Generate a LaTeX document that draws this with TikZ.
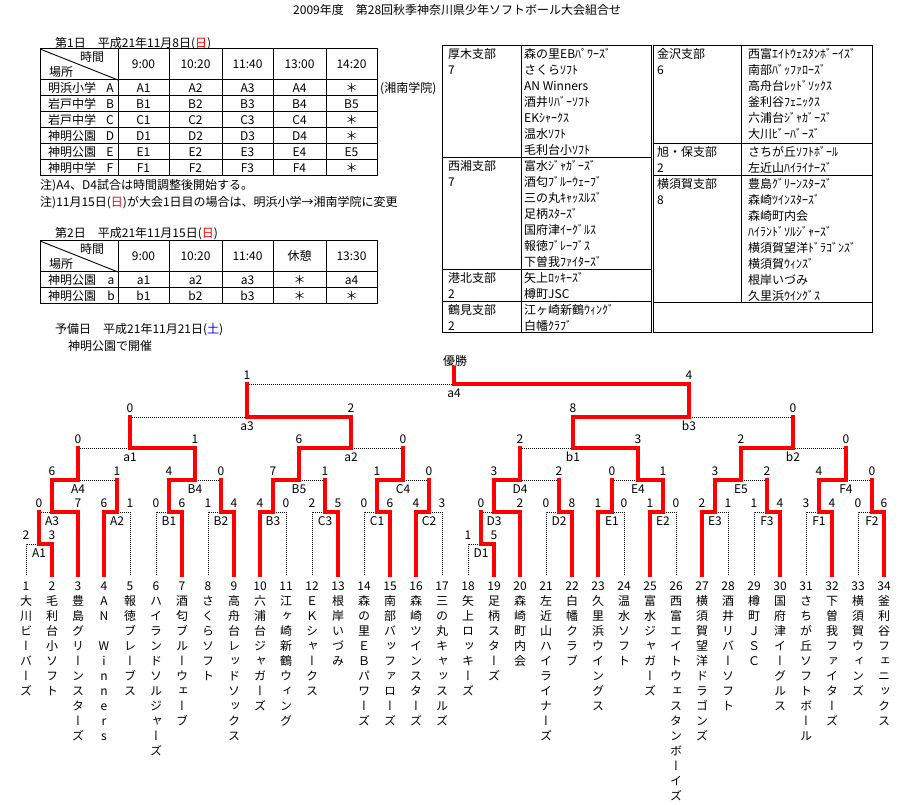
\documentclass[tikz,border=0pt]{standalone}
\usepackage{fontspec}
\usetikzlibrary{calc}
\newfontfamily\jp{Noto Sans CJK JP}
\newfontfamily\jpv[RawFeature=+vert]{Noto Sans CJK JP}
\definecolor{pred}{RGB}{255,0,0}
\definecolor{pblue}{RGB}{0,0,255}
\tikzset{
  txt/.style={font=\jp\fontsize{12}{14}\selectfont, inner sep=0pt, text height=9.6pt, text depth=0.7pt},
  lft/.style={txt, anchor=west},
  vch/.style={font=\jpv\fontsize{12}{14}\selectfont, inner sep=0pt, text height=9.6pt, text depth=0.7pt},
  win/.style={draw=pred, line width=3.6pt, line cap=rect},
  lose/.style={draw=black, line width=0.9pt, dash pattern=on 1pt off 1pt},
  rule/.style={draw=black, line width=1pt},
}
\newcommand\LeafW[3]{\draw[win] (#1) |- (#2); \node[txt] (s#1#2) at ($(#1 |- #2)+(0,-9)$) {#3};}
\newcommand\LeafL[3]{\draw[lose] (#1) |- (#2); \node[txt] (s#1#2) at ($(#1 |- #2)+(0,-9)$) {#3};}
\newcommand\SubW[3]{\draw[win] (#1) -- (#1 |- #2) -- (#2); \node[txt] (s#1#2) at ($(#1 |- #2)+(0,-9)$) {#3};}
\newcommand\SubL[3]{\draw[lose] (#1 |- #2) -- (#2); \draw[win] (#1) -- (#1 |- #2); \node[txt] (s#1#2) at ($(#1 |- #2)+(0,-9)$) {#3};}
\newcommand\Lab[2]{\node[txt] (lab#1) at ($(#1)+(0,9)$) {#2};}
\newcommand\vname[2]{\foreach \chr [count=\idx] in {#2} {\node[vch] (v#1-\idx) at (26*#1, 586+15*\idx) {\chr};}}
\newcommand\blk[6]{%
  \node[lft] (bn-#3-#1) at (#1,#3+8) {#4};
  \node[lft] (bc-#3-#1) at (#1,#3+24) {#5};
  \foreach \tm [count=\idx] in {#6} {\node[lft] (bt-#3-#1-\idx) at (#2,#3-8+16*\idx) {\tm};}}
\begin{document}
\begin{tikzpicture}[x=1pt,y=-1pt]
\useasboundingbox (0,0) rectangle (898,805);
\fill[white] (0,0) rectangle (898,805);

% title
\node[lft] (title) at (293,10) {2009年度　第28回秋季神奈川県少年ソフトボール大会組合せ};

% ---- Day 1 table
\node[lft] (d1) at (55,43) {第1日　平成21年11月8日(\textcolor{pred}{日})};
\draw[rule] (40,49) rectangle (377,176);
\foreach \x in {118,169,222,273,326} \draw[rule] (\x,49) -- (\x,176);
\foreach \y in {80,96,112,128,144,160} \draw[rule] (40,\y) -- (377,\y);
\draw[line width=0.9pt] (40,49) -- (118,80);
\node[txt] (h1t) at (92,57) {時間};
\node[txt] (h1p) at (61,72) {場所};
\foreach \hd/\hx [count=\i] in {9:00/143.5,10:20/195.5,11:40/247.5,13:00/299.5,14:20/351.5}
  \node[txt] (hd1-\i) at (\hx,64) {\hd};
\foreach \pl/\lr/\xa/\xb/\xc/\xd/\xe [count=\r] in {明浜小学/A/A1/A2/A3/A4/＊, 岩戸中学/B/B1/B2/B3/B4/B5, 岩戸中学/C/C1/C2/C3/C4/＊, 神明公園/D/D1/D2/D3/D4/＊, 神明公園/E/E1/E2/E3/E4/E5, 神明中学/F/F1/F2/F3/F4/＊}{
  \node[lft] (pa\r) at (48,72+16*\r) {\pl};
  \node[txt] (la\r) at (110,72+16*\r) {\lr};
  \node[txt] (ca\r) at (143.5,72+16*\r) {\xa};
  \node[txt] (cb\r) at (195.5,72+16*\r) {\xb};
  \node[txt] (cc\r) at (247.5,72+16*\r) {\xc};
  \node[txt] (cd\r) at (299.5,72+16*\r) {\xd};
  \node[txt] (ce\r) at (351.5,72+16*\r) {\xe};
}
\node[lft] (shonan) at (380,88) {(湘南学院)};
\node[lft] (note1) at (40,185) {注)A4、D4試合は時間調整後開始する。};
\node[lft] (note2) at (40,202) {注)11月15日(\textcolor{pred}{日})が大会1日目の場合は、明浜小学→湘南学院に変更};

% ---- Day 2 table
\node[lft] (d2) at (55,233) {第2日　平成21年11月15日(\textcolor{pred}{日})};
\draw[rule] (40,241) rectangle (377,304);
\foreach \x in {118,169,222,273,326} \draw[rule] (\x,241) -- (\x,304);
\foreach \y in {272,288} \draw[rule] (40,\y) -- (377,\y);
\draw[line width=0.9pt] (40,241) -- (118,272);
\node[txt] (h2t) at (92,249) {時間};
\node[txt] (h2p) at (61,264) {場所};
\foreach \hd/\hx [count=\i] in {9:00/143.5,10:20/195.5,11:40/247.5,休憩/299.5,13:30/351.5}
  \node[txt] (hd2-\i) at (\hx,256) {\hd};
\foreach \pl/\lr/\xa/\xb/\xc/\xd/\xe [count=\r] in {神明公園/a/a1/a2/a3/＊/a4, 神明公園/b/b1/b2/b3/＊/＊}{
  \node[lft] (pb\r) at (48,264+16*\r) {\pl};
  \node[txt] (lb\r) at (111,264+16*\r) {\lr};
  \node[txt] (da\r) at (143.5,264+16*\r) {\xa};
  \node[txt] (db\r) at (195.5,264+16*\r) {\xb};
  \node[txt] (dc\r) at (247.5,264+16*\r) {\xc};
  \node[txt] (dd\r) at (299.5,264+16*\r) {\xd};
  \node[txt] (de\r) at (351.5,264+16*\r) {\xe};
}
\node[lft] (yobi) at (55,329) {予備日　平成21年11月21日(\textcolor{pblue}{土})};
\node[lft] (kaisai) at (68,346) {神明公園で開催};

% ---- branch tables
\draw[rule] (442,46) rectangle (651,333);
\draw[rule] (521,46) -- (521,333);
\foreach \y in {158,270,302} \draw[rule] (442,\y) -- (651,\y);
\draw[rule] (653,46) rectangle (872,333);
\draw[rule] (741,46) -- (741,303);
\foreach \y in {144,176,303} \draw[rule] (653,\y) -- (872,\y);
\blk{448}{524}{46}{厚木支部}{7}{森の里EBﾊﾟﾜｰｽﾞ,さくらｿﾌﾄ,AN Winners,酒井ﾘﾊﾞｰｿﾌﾄ,EKｼｬｰｸｽ,温水ｿﾌﾄ,毛利台小ｿﾌﾄ}
\blk{448}{524}{158}{西湘支部}{7}{富水ｼﾞｬｶﾞｰｽﾞ,酒匂ﾌﾞﾙｰｳｪｰﾌﾞ,三の丸ｷｬｯｽﾙｽﾞ,足柄ｽﾀｰｽﾞ,国府津ｲｰｸﾞﾙｽ,報徳ﾌﾞﾚｰﾌﾞｽ,下曽我ﾌｧｲﾀｰｽﾞ}
\blk{448}{524}{270}{港北支部}{2}{矢上ﾛｯｷｰｽﾞ,樽町JSC}
\blk{448}{524}{302}{鶴見支部}{2}{江ヶ崎新鶴ｳｨﾝｸﾞ,白幡ｸﾗﾌﾞ}
\blk{657}{748}{46}{金沢支部}{6}{西富ｴｲﾄｳｪｽﾀﾝﾎﾞｰｲｽﾞ,南部ﾊﾞｯﾌｧﾛｰｽﾞ,高舟台ﾚｯﾄﾞｿｯｸｽ,釜利谷ﾌｪﾆｯｸｽ,六浦台ｼﾞｬｶﾞｰｽﾞ,大川ﾋﾞｰﾊﾞｰｽﾞ}
\blk{657}{748}{144}{旭・保支部}{2}{さちが丘ｿﾌﾄﾎﾞｰﾙ,左近山ﾊｲﾗｲﾅｰｽﾞ}
\blk{657}{748}{176}{横須賀支部}{8}{豊島ｸﾞﾘｰﾝｽﾀｰｽﾞ,森崎ﾂｲﾝｽﾀｰｽﾞ,森崎町内会,ﾊｲﾗﾝﾄﾞｿﾙｼﾞｬｰｽﾞ,横須賀望洋ﾄﾞﾗｺﾞﾝｽﾞ,横須賀ｳｨﾝｽﾞ,根岸いづみ,久里浜ｳｲﾝｸﾞｽ}

% ---- bracket coordinates
\foreach \i in {1,...,34} {\coordinate (L\i) at (26*\i,575); \node[txt] (num\i) at (26*\i,586) {\i};}
\coordinate (mA1) at (39,544);  \coordinate (mD1) at (481,544);
\coordinate (mA3) at (52,512);  \coordinate (mA2) at (117,512); \coordinate (mB1) at (169,512);
\coordinate (mB2) at (221,512); \coordinate (mB3) at (273,512); \coordinate (mC3) at (325,512);
\coordinate (mC1) at (377,512); \coordinate (mC2) at (429,512); \coordinate (mD3) at (494,512);
\coordinate (mD2) at (559,512); \coordinate (mE1) at (612,512); \coordinate (mE2) at (663,512);
\coordinate (mE3) at (715,512); \coordinate (mF3) at (767,512); \coordinate (mF1) at (819,512);
\coordinate (mF2) at (872,512);
\coordinate (mA4) at (78,480);  \coordinate (mB4) at (195,480); \coordinate (mB5) at (299,480);
\coordinate (mC4) at (403,480); \coordinate (mD4) at (520,480); \coordinate (mE4) at (638,480);
\coordinate (mE5) at (741,480); \coordinate (mF4) at (846,480);
\coordinate (ma1) at (130,448); \coordinate (ma2) at (351,448);
\coordinate (mb1) at (573,448); \coordinate (mb2) at (793,448);
\coordinate (ma3) at (247,417); \coordinate (mb3) at (689,417);
\coordinate (ma4) at (454,384); \coordinate (champ) at (454,368);

% ---- bracket lines
\LeafL{L1}{mA1}{2} \LeafW{L2}{mA1}{3}
\LeafL{L18}{mD1}{1} \LeafW{L19}{mD1}{5}
\SubL{mA1}{mA3}{0} \LeafW{L3}{mA3}{7}
\LeafL{L5}{mA2}{1} \LeafW{L4}{mA2}{6}
\LeafL{L6}{mB1}{0} \LeafW{L7}{mB1}{6}
\LeafL{L8}{mB2}{1} \LeafW{L9}{mB2}{4}
\LeafL{L11}{mB3}{0} \LeafW{L10}{mB3}{4}
\LeafL{L12}{mC3}{2} \LeafW{L13}{mC3}{5}
\LeafL{L14}{mC1}{0} \LeafW{L15}{mC1}{6}
\LeafL{L17}{mC2}{3} \LeafW{L16}{mC2}{4}
\SubL{mD1}{mD3}{0} \LeafW{L20}{mD3}{2}
\LeafL{L21}{mD2}{0} \LeafW{L22}{mD2}{8}
\LeafL{L24}{mE1}{0} \LeafW{L23}{mE1}{1}
\LeafL{L26}{mE2}{0} \LeafW{L25}{mE2}{1}
\LeafL{L28}{mE3}{1} \LeafW{L27}{mE3}{2}
\LeafL{L29}{mF3}{1} \LeafW{L30}{mF3}{4}
\LeafL{L31}{mF1}{3} \LeafW{L32}{mF1}{4}
\LeafL{L33}{mF2}{0} \LeafW{L34}{mF2}{6}
\SubL{mA2}{mA4}{1} \SubW{mA3}{mA4}{6}
\SubL{mB2}{mB4}{0} \SubW{mB1}{mB4}{4}
\SubL{mC3}{mB5}{1} \SubW{mB3}{mB5}{7}
\SubL{mC2}{mC4}{0} \SubW{mC1}{mC4}{1}
\SubL{mD2}{mD4}{2} \SubW{mD3}{mD4}{3}
\SubL{mE1}{mE4}{0} \SubW{mE2}{mE4}{1}
\SubL{mF3}{mE5}{2} \SubW{mE3}{mE5}{3}
\SubL{mF2}{mF4}{0} \SubW{mF1}{mF4}{4}
\SubL{mA4}{ma1}{0} \SubW{mB4}{ma1}{1}
\SubL{mC4}{ma2}{0} \SubW{mB5}{ma2}{6}
\SubL{mD4}{mb1}{2} \SubW{mE4}{mb1}{3}
\SubL{mF4}{mb2}{0} \SubW{mE5}{mb2}{2}
\SubL{ma1}{ma3}{0} \SubW{ma2}{ma3}{2}
\SubL{mb2}{mb3}{0} \SubW{mb1}{mb3}{8}
\SubL{ma3}{ma4}{1} \SubW{mb3}{ma4}{4}
\draw[win] (ma4) -- (champ);
\node[txt] (yusho) at (455,361) {優勝};

% ---- match labels
\Lab{mA1}{A1} \Lab{mD1}{D1}
\Lab{mA3}{A3} \Lab{mA2}{A2} \Lab{mB1}{B1} \Lab{mB2}{B2} \Lab{mB3}{B3} \Lab{mC3}{C3}
\Lab{mC1}{C1} \Lab{mC2}{C2} \Lab{mD3}{D3} \Lab{mD2}{D2} \Lab{mE1}{E1} \Lab{mE2}{E2}
\Lab{mE3}{E3} \Lab{mF3}{F3} \Lab{mF1}{F1} \Lab{mF2}{F2}
\Lab{mA4}{A4} \Lab{mB4}{B4} \Lab{mB5}{B5} \Lab{mC4}{C4} \Lab{mD4}{D4} \Lab{mE4}{E4}
\Lab{mE5}{E5} \Lab{mF4}{F4}
\Lab{ma1}{a1} \Lab{ma2}{a2} \Lab{mb1}{b1} \Lab{mb2}{b2}
\Lab{ma3}{a3} \Lab{mb3}{b3} \Lab{ma4}{a4}

% ---- team names (vertical)
\vname{1}{大,川,ビ,ー,バ,ー,ズ}
\vname{2}{毛,利,台,小,ソ,フ,ト}
\vname{3}{豊,島,グ,リ,ー,ン,ス,タ,ー,ズ}
\vname{4}{A,N,{},W,i,n,n,e,r,s}
\vname{5}{報,徳,ブ,レ,ー,ブ,ス}
\vname{6}{ハ,イ,ラ,ン,ド,ソ,ル,ジ,ャ,ー,ズ}
\vname{7}{酒,匂,ブ,ル,ー,ウ,ェ,ー,ブ}
\vname{8}{さ,く,ら,ソ,フ,ト}
\vname{9}{高,舟,台,レ,ッ,ド,ソ,ッ,ク,ス}
\vname{10}{六,浦,台,ジ,ャ,ガ,ー,ズ}
\vname{11}{江,ヶ,崎,新,鶴,ウ,ィ,ン,グ}
\vname{12}{Ｅ,Ｋ,シ,ャ,ー,ク,ス}
\vname{13}{根,岸,い,づ,み}
\vname{14}{森,の,里,Ｅ,Ｂ,パ,ワ,ー,ズ}
\vname{15}{南,部,バ,ッ,フ,ァ,ロ,ー,ズ}
\vname{16}{森,崎,ツ,イ,ン,ス,タ,ー,ズ}
\vname{17}{三,の,丸,キ,ャ,ッ,ス,ル,ズ}
\vname{18}{矢,上,ロ,ッ,キ,ー,ズ}
\vname{19}{足,柄,ス,タ,ー,ズ}
\vname{20}{森,崎,町,内,会}
\vname{21}{左,近,山,ハ,イ,ラ,イ,ナ,ー,ズ}
\vname{22}{白,幡,ク,ラ,ブ}
\vname{23}{久,里,浜,ウ,イ,ン,グ,ス}
\vname{24}{温,水,ソ,フ,ト}
\vname{25}{富,水,ジ,ャ,ガ,ー,ズ}
\vname{26}{西,富,エ,イ,ト,ウ,ェ,ス,タ,ン,ボ,ー,イ,ズ}
\vname{27}{横,須,賀,望,洋,ド,ラ,ゴ,ン,ズ}
\vname{28}{酒,井,リ,バ,ー,ソ,フ,ト}
\vname{29}{樽,町,Ｊ,Ｓ,Ｃ}
\vname{30}{国,府,津,イ,ー,グ,ル,ス}
\vname{31}{さ,ち,が,丘,ソ,フ,ト,ボ,ー,ル}
\vname{32}{下,曽,我,フ,ァ,イ,タ,ー,ズ}
\vname{33}{横,須,賀,ウ,ィ,ン,ズ}
\vname{34}{釜,利,谷,フ,ェ,ニ,ッ,ク,ス}
\end{tikzpicture}
\end{document}
